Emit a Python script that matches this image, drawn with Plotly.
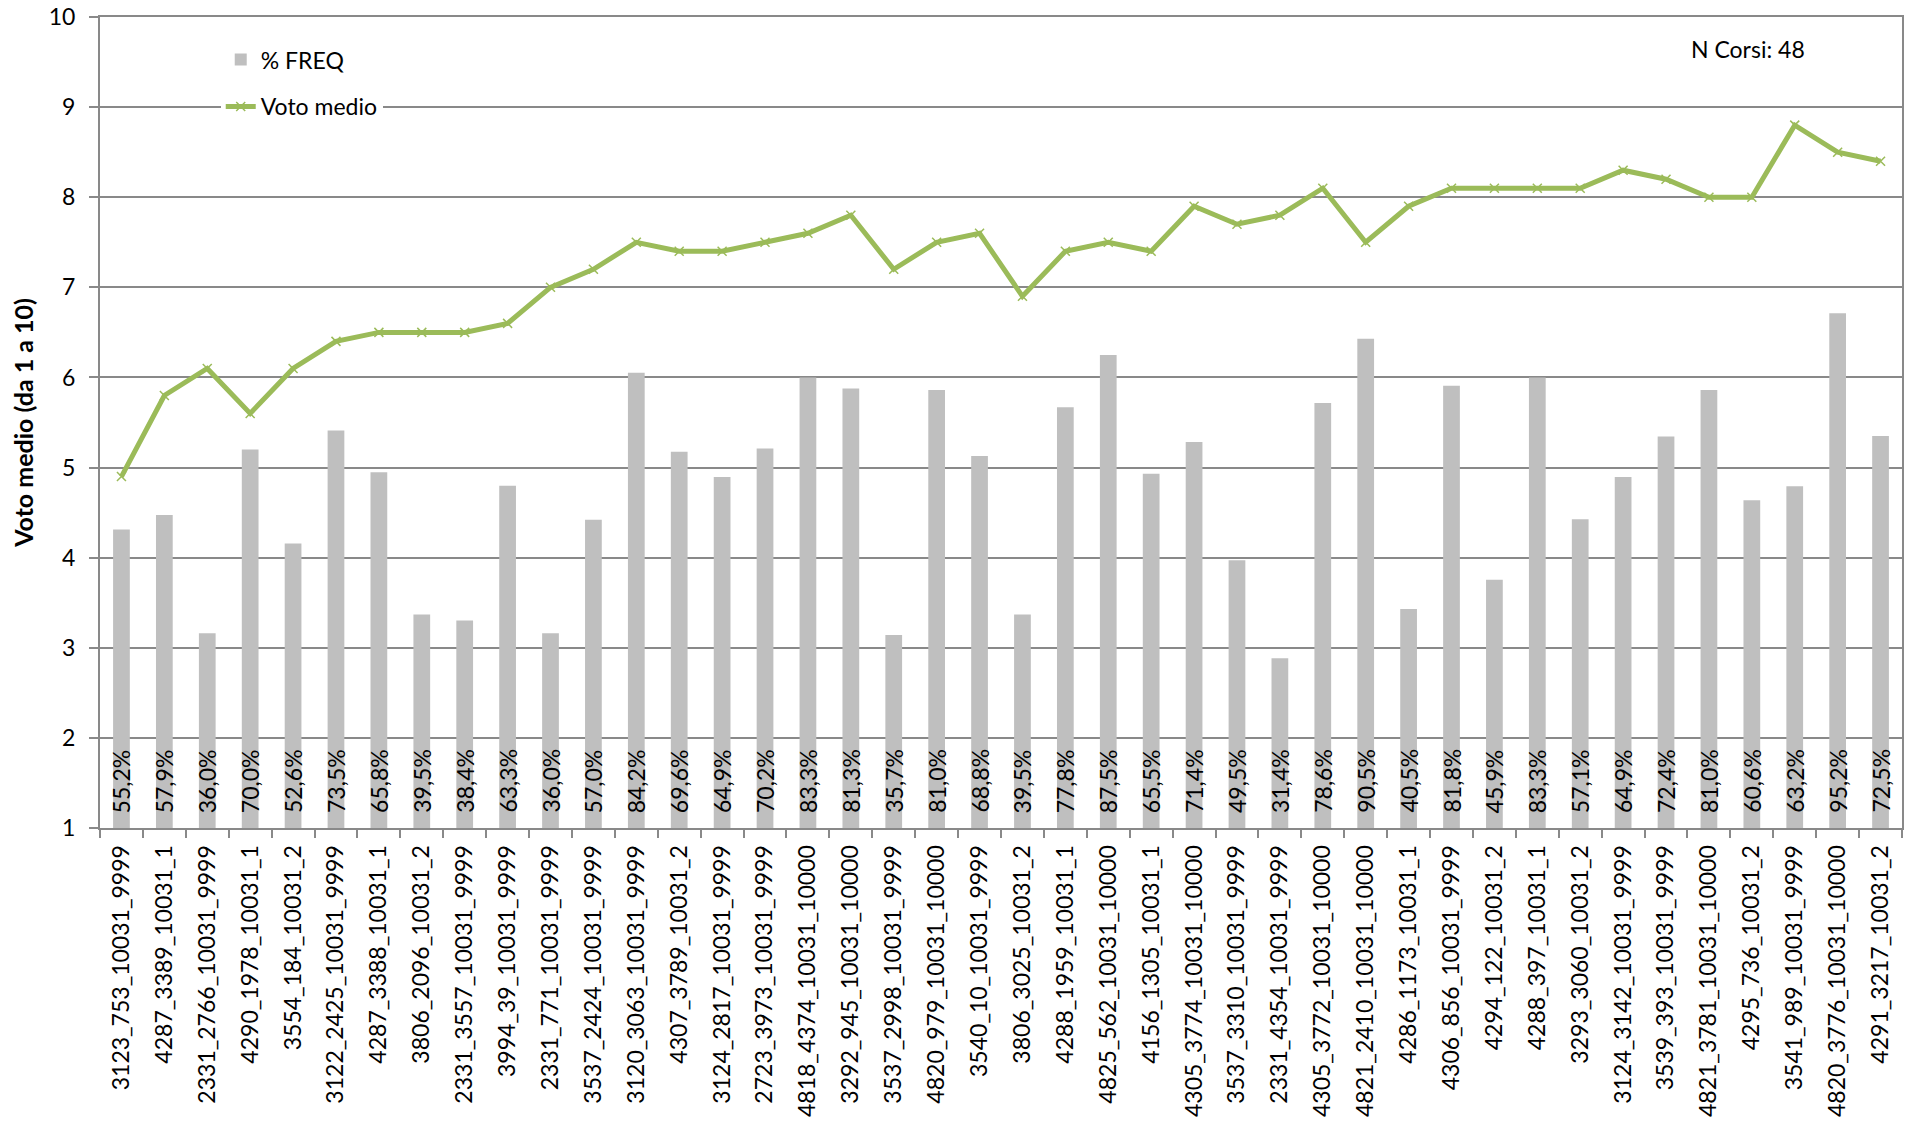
import plotly.graph_objects as go

categories = [
    "3123_753_10031_9999", "4287_3389_10031_1", "2331_2766_10031_9999", "4290_1978_10031_1",
    "3554_184_10031_2", "3122_2425_10031_9999", "4287_3388_10031_1", "3806_2096_10031_2",
    "2331_3557_10031_9999", "3994_39_10031_9999", "2331_771_10031_9999", "3537_2424_10031_9999",
    "3120_3063_10031_9999", "4307_3789_10031_2", "3124_2817_10031_9999", "2723_3973_10031_9999",
    "4818_4374_10031_10000", "3292_945_10031_10000", "3537_2998_10031_9999", "4820_979_10031_10000",
    "3540_10_10031_9999", "3806_3025_10031_2", "4288_1959_10031_1", "4825_562_10031_10000",
    "4156_1305_10031_1", "4305_3774_10031_10000", "3537_3310_10031_9999", "2331_4354_10031_9999",
    "4305_3772_10031_10000", "4821_2410_10031_10000", "4286_1173_10031_1", "4306_856_10031_9999",
    "4294_122_10031_2", "4288_397_10031_1", "3293_3060_10031_2", "3124_3142_10031_9999",
    "3539_393_10031_9999", "4821_3781_10031_10000", "4295_736_10031_2", "3541_989_10031_9999",
    "4820_3776_10031_10000", "4291_3217_10031_2",
]

freq_pct = [
    55.2, 57.9, 36.0, 70.0, 52.6, 73.5, 65.8, 39.5, 38.4, 63.3, 36.0, 57.0, 84.2, 69.6,
    64.9, 70.2, 83.3, 81.3, 35.7, 81.0, 68.8, 39.5, 77.8, 87.5, 65.5, 71.4, 49.5, 31.4,
    78.6, 90.5, 40.5, 81.8, 45.9, 83.3, 57.1, 64.9, 72.4, 81.0, 60.6, 63.2, 95.2, 72.5,
]

voto_medio = [
    4.9, 5.8, 6.1, 5.6, 6.1, 6.4, 6.5, 6.5, 6.5, 6.6, 7.0, 7.2, 7.5, 7.4,
    7.4, 7.5, 7.6, 7.8, 7.2, 7.5, 7.6, 6.9, 7.4, 7.5, 7.4, 7.9, 7.7, 7.8,
    8.1, 7.5, 7.9, 8.1, 8.1, 8.1, 8.1, 8.3, 8.2, 8.0, 8.0, 8.8, 8.5, 8.4,
]

y_ticks = [1, 2, 3, 4, 5, 6, 7, 8, 9, 10]
n_corsi = 48

FONT = "Lato"
GRID = "#898989"
GREEN = "#9BBB59"
BAR = "#BFBFBF"

freq_frac = [v / 100 for v in freq_pct]
freq_text = [f"{v:.1f}".replace(".", ",") + "%" for v in freq_pct]

fig = go.Figure()

fig.add_trace(go.Bar(
    x=categories, y=freq_frac, yaxis="y2", name="% FREQ",
    marker=dict(color=BAR, line=dict(width=0)),
    width=0.39,
    legendgroup="a",
))

fig.add_trace(go.Scatter(
    x=categories, y=voto_medio, name="Voto medio", mode="lines+markers",
    line=dict(color=GREEN, width=5),
    marker=dict(symbol="x-thin", size=9, color=GREEN, line=dict(color=GREEN, width=1.5)),
    legendgroup="b",
))

annotations = [
    dict(
        x=c, y=0, xref="x", yref="y2", text=t, textangle=-90,
        xanchor="center", yanchor="bottom", yshift=13, showarrow=False,
        font=dict(family=FONT, size=23, color="#000000"),
    )
    for c, t in zip(categories, freq_text)
]
annotations.append(dict(
    text=f"N Corsi: {n_corsi}", xref="paper", yref="paper",
    x=0.9145, y=0.9605, xanchor="center", yanchor="middle", showarrow=False,
    font=dict(family=FONT, size=23, color="#000000"),
))

fig.update_layout(
    width=1906, height=1133,
    margin=dict(l=100, r=4, t=17, b=305),
    paper_bgcolor="white", plot_bgcolor="white",
    font=dict(family=FONT, size=23, color="#000000"),
    showlegend=True,
    legend=dict(
        x=0.067, y=0.974, xanchor="left", yanchor="top",
        bgcolor="white", borderwidth=0,
        font=dict(family=FONT, size=23, color="#000000"),
        traceorder="grouped", tracegroupgap=14,
    ),
    xaxis=dict(
        type="category", tickangle=-90, showgrid=False,
        ticks="outside", tickson="boundaries", ticklen=8, tickcolor=GRID, tickwidth=2,
        showline=True, linecolor=GRID, linewidth=2, mirror=True,
        tickfont=dict(family=FONT, size=23, color="#000000"),
        ticklabelstandoff=6,
        automargin=False, range=[-0.5, len(categories) - 0.5],
    ),
    yaxis=dict(
        range=[1, 10], tickvals=y_ticks, showgrid=True, gridcolor=GRID, gridwidth=2,
        ticks="outside", ticklen=9, tickcolor=GRID, tickwidth=2,
        showline=True, linecolor=GRID, linewidth=2, mirror=True,
        zeroline=False, ticklabelstandoff=9,
        tickfont=dict(family=FONT, size=23, color="#000000"),
        title=dict(text="<b>Voto medio (da 1 a 10)</b>", font=dict(family=FONT, size=25, color="#000000"), standoff=8),
        automargin=False,
    ),
    yaxis2=dict(
        overlaying="y", range=[0, 1.5], visible=False, showgrid=False,
    ),
    annotations=annotations,
)

fig.write_html(
    "out.html",
    config={"displayModeBar": False},
    post_script="document.body.style.margin='0';document.body.style.overflow='hidden';",
)
